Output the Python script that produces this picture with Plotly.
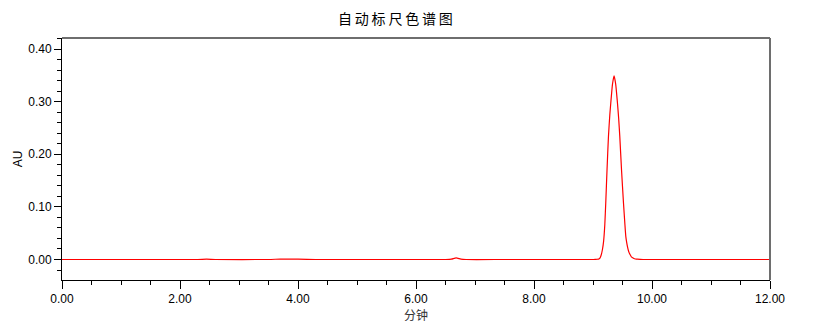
import plotly.graph_objects as go

# Retention time (min) and absorbance (AU)
time_min = [0.00, 1.00, 2.30, 2.45, 2.60, 3.50, 3.70, 4.00, 4.30, 5.00, 6.00, 6.50,
            6.60, 6.68, 6.76, 6.85, 7.50, 8.50, 9.00, 9.04, 9.08, 9.10, 9.12, 9.14, 9.16,
            9.18, 9.20, 9.216, 9.238, 9.262, 9.285, 9.301, 9.33, 9.357, 9.385, 9.415, 9.435,
            9.454, 9.483, 9.517, 9.54, 9.556, 9.57, 9.585, 9.60, 9.612, 9.63, 9.65, 9.67,
            9.692, 9.72, 9.75, 9.80, 9.85, 10.20, 11.00, 12.00]
absorbance = [0.0000, 0.0000, 0.0000, 0.0005, 0.0000, 0.0000, 0.0007, 0.0008, 0.0000, 0.0000, 0.0000, 0.0000,
              0.0006, 0.0030, 0.0008, 0.0000, 0.0000, 0.0000, 0.0000, 0.0001, 0.0005, 0.0010, 0.0030, 0.0090, 0.0190,
              0.0350, 0.0660, 0.1070, 0.1710, 0.2340, 0.2750, 0.2970, 0.3330, 0.3490, 0.3330, 0.2970, 0.2680,
              0.2340, 0.1710, 0.1070, 0.0680, 0.0440, 0.0330, 0.0240, 0.0170, 0.0130, 0.0090, 0.0050, 0.0035,
              0.0020, 0.0010, 0.0005, 0.0002, 0.0000, 0.0000, 0.0000, 0.0000]

title_text = "自动标尺色谱图"
x_title = "分钟"
y_title = "AU"
x_ticks = [0, 2, 4, 6, 8, 10, 12]
y_ticks = [0.0, 0.1, 0.2, 0.3, 0.4]

fig = go.Figure()
fig.add_trace(go.Scatter(x=time_min, y=absorbance, mode="lines",
                         line=dict(color="#ff0000", width=1.2, shape="spline", smoothing=0.5),
                         hoverinfo="skip", showlegend=False))

tick_font = dict(family="Liberation Sans, Arial, sans-serif", size=12, color="#000000")

ML, MR, MT, MB = 62, 51, 38, 45
plot_w = 821 - ML - MR
plot_h = 325 - MT - MB

fig.update_layout(
    width=821, height=325,
    margin=dict(l=ML, r=MR, t=MT, b=MB, autoexpand=False),
    paper_bgcolor="white", plot_bgcolor="white",
    showlegend=False,
    annotations=[
        dict(text="\u2009".join(title_text), x=(395 - ML) / plot_w, xref="paper",
             y=(325 - MB - 18) / plot_h, yref="paper",
             showarrow=False, font=dict(family="Noto Sans CJK SC", size=14, color="#000000"),
             xanchor="center", yanchor="middle"),
    ],
)

fig.update_xaxes(
    range=[0, 12], tickvals=x_ticks, tickformat=".2f", automargin=False,
    ticks="outside", ticklen=8, tickwidth=1, tickcolor="#000000",
    showline=True, linecolor="#000000", linewidth=1, mirror=False,
    showgrid=False, zeroline=False, tickfont=tick_font,
    minor=dict(dtick=0.5, ticks="outside", ticklen=4, tickcolor="#000000", tickwidth=1, showgrid=False),
    title=dict(text=x_title, font=dict(family="Noto Sans CJK SC", size=12, color="#333333"), standoff=4),
)
fig.update_yaxes(
    range=[-0.039, 0.421], tickvals=y_ticks, tickformat=".2f", automargin=False,
    ticks="outside", ticklen=7, tickwidth=1, tickcolor="#000000",
    showline=True, linecolor="#000000", linewidth=1, mirror=False,
    showgrid=False, zeroline=False, tickfont=tick_font,
    minor=dict(dtick=0.02, tick0=0, ticks="outside", ticklen=4, tickcolor="#000000", tickwidth=1, showgrid=False),
    title=dict(text=y_title, font=dict(family="Liberation Sans, Arial, sans-serif", size=12, color="#000000"), standoff=3),
)
# gray top and right frame
fig.add_shape(type="line", xref="paper", yref="paper", x0=0, x1=1, y0=1, y1=1,
              line=dict(color="#6e6e6e", width=2))
fig.add_shape(type="line", xref="paper", yref="paper", x0=1, x1=1, y0=0, y1=1,
              line=dict(color="#6e6e6e", width=2))

fig.write_html("out.html")
